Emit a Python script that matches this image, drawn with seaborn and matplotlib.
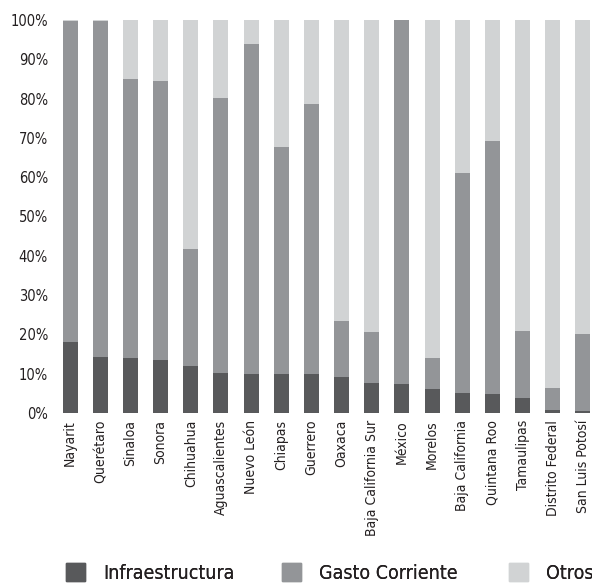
import matplotlib
matplotlib.use("Agg")
import pandas as pd
import matplotlib.pyplot as plt
import seaborn as sns
from matplotlib.patches import Patch
from matplotlib import font_manager

estados = ["Nayarit", "Querétaro", "Sinaloa", "Sonora", "Chihuahua", "Aguascalientes",
           "Nuevo León", "Chiapas", "Guerrero", "Oaxaca", "Baja California Sur", "México",
           "Morelos", "Baja California", "Quintana Roo", "Tamaulipas", "Distrito Federal",
           "San Luis Potosí"]
infraestructura = [18.1, 14.3, 14.1, 13.5, 12.0, 10.3, 10.0, 10.0, 9.9, 9.2, 7.6, 7.4,
                   6.1, 5.1, 4.8, 3.8, 0.8, 0.5]
gasto_corriente = [81.7, 85.5, 70.9, 71.0, 29.8, 69.9, 84.0, 57.8, 68.7, 14.2, 13.0, 92.6,
                   7.9, 56.0, 64.4, 17.1, 5.6, 19.6]
otros = [0.2, 0.2, 15.0, 15.5, 58.2, 19.8, 6.0, 32.2, 21.4, 76.6, 79.4, 0.0,
         86.0, 38.9, 30.8, 79.1, 93.6, 79.9]
series = ["Infraestructura", "Gasto Corriente", "Otros"]

c_infra = "#58595b"
c_gasto = "#939598"
c_otros = "#d1d3d4"

sns.set_style("white")
# condensed face if the system has one
cond = [f for f in font_manager.fontManager.ttflist
        if "DejaVu Sans" == f.name and f.stretch == "condensed"]
plt.rcParams["font.family"] = ["DejaVu Sans"]
if cond:
    plt.rcParams["font.stretch"] = "condensed"

df = pd.DataFrame({"Estado": estados, "Infra": infraestructura,
                   "Gasto": gasto_corriente, "Otros": otros})
df["tope_gasto"] = df["Infra"] + df["Gasto"]
df["tope_otros"] = df["tope_gasto"] + df["Otros"]

fig = plt.figure(figsize=(5.92, 5.84), dpi=100)
ax = fig.add_axes([55 / 592, 171 / 584, 537 / 592, 393 / 584])

# stacked bars: draw totals first, then overlay the lower segments
for col, c in [("tope_otros", c_otros), ("tope_gasto", c_gasto), ("Infra", c_infra)]:
    sns.barplot(data=df, x="Estado", y=col, color=c, width=0.5,
                saturation=1, linewidth=0, ax=ax)

ax.set_xlim(-0.5, 17.3)
ax.set_ylim(0, 100)
ax.set_yticks(range(0, 101, 10))
ax.set_yticklabels([f"{v}%" for v in range(0, 101, 10)], fontsize=10.5, color="#231f20")
ax.set_xticks(range(len(estados)))
ax.set_xticklabels(estados, rotation=90, fontsize=10, color="#231f20")
ax.tick_params(axis="both", length=0, pad=5)
ax.set_xlabel("")
ax.set_ylabel("")
sns.despine(ax=ax, left=True, bottom=True)

# one legend per entry, to keep the wide spacing of the original
for name, c, x0 in zip(series, [c_infra, c_gasto, c_otros], [58, 274, 501]):
    leg = fig.legend(handles=[Patch(color=c, label=name)], loc="lower left",
                     bbox_to_anchor=(x0 / 592, -0.011), frameon=False,
                     fontsize=14, handlelength=0.98, handleheight=0.98,
                     handletextpad=0.93, borderaxespad=0, labelcolor="#231f20")
    fig.add_artist(leg)

fig.savefig("out.png", dpi=100)
